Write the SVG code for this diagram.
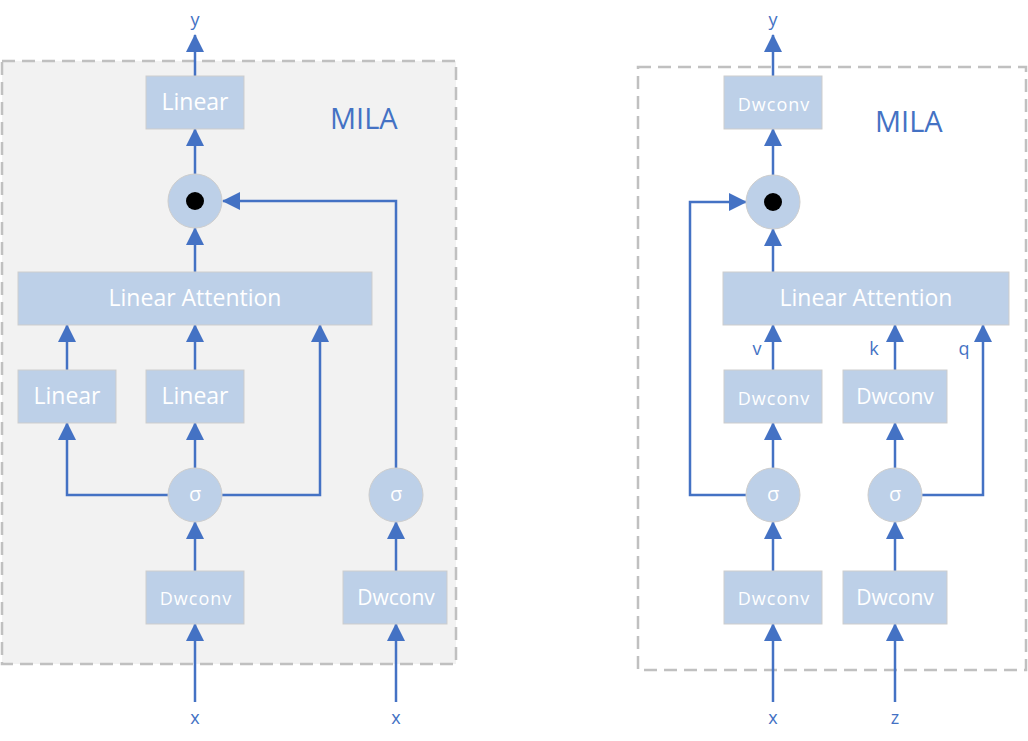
<svg xmlns="http://www.w3.org/2000/svg" width="1028" height="741" viewBox="0 0 1028 741">
<defs>
<marker id="ah" viewBox="0 0 18 18" markerWidth="18" markerHeight="18" markerUnits="userSpaceOnUse" refX="17" refY="9" orient="auto">
<path d="M0,0 L18,9 L0,18 z" fill="#4472C4"/>
</marker>
</defs>
<style>
.frame{stroke:#c0c0c0;stroke-width:2.5;stroke-dasharray:13 7}
.box{fill:#BDD0E8;stroke:#cdcdcd;stroke-width:1}
.t{font-family:"Open Sans","Liberation Sans",sans-serif;fill:#ffffff;text-anchor:middle;dominant-baseline:central}
.big{font-size:23px}
.mid{font-size:21px}
.sm{font-size:18px;letter-spacing:1px}
.sig{font-size:20px}
.lbl{font-family:"Open Sans","Liberation Sans",sans-serif;fill:#4472C4;font-size:18px;text-anchor:middle}
.mila{font-family:"Open Sans","Liberation Sans",sans-serif;fill:#4472C4;font-size:29px}
.c{fill:none;stroke:#4472C4;stroke-width:2.5;marker-end:url(#ah)}
</style>
<g id="frameL"><rect class="frame" x="2" y="61" width="454" height="603" fill="#f2f2f2"/><text class="mila" x="330" y="129">MILA</text></g>
<g id="frameR"><rect class="frame" x="638" y="67" width="388" height="603" fill="none"/><text class="mila" x="875" y="132">MILA</text></g>

<g id="connectors">
<path class="c" d="M195,702 V624"/>
<path class="c" d="M195,571 V522"/>
<path class="c" d="M195,468 V423"/>
<path class="c" d="M168,495 H67 V423"/>
<path class="c" d="M222,495 H320 V325"/>
<path class="c" d="M67,370 V325"/>
<path class="c" d="M195,370 V325"/>
<path class="c" d="M195,272 V228"/>
<path class="c" d="M195,174 V129"/>
<path class="c" d="M195,76 V35"/>
<path class="c" d="M396,702 V624"/>
<path class="c" d="M396,571 V522"/>
<path class="c" d="M396,468 V201 H223"/>

<path class="c" d="M773,702 V624"/>
<path class="c" d="M895,702 V624"/>
<path class="c" d="M773,571 V522"/>
<path class="c" d="M895,571 V522"/>
<path class="c" d="M773,468 V423"/>
<path class="c" d="M895,468 V423"/>
<path class="c" d="M746,495 H690 V202 H746"/>
<path class="c" d="M922,495 H983 V325"/>
<path class="c" d="M773,370 V325"/>
<path class="c" d="M895,370 V325"/>
<path class="c" d="M773,272 V229"/>
<path class="c" d="M773,175 V129"/>
<path class="c" d="M773,76 V35"/>
</g>

<g id="L_linear_top"><rect class="box" x="146" y="76" width="98" height="53"/><text class="t big" x="195" y="101">Linear</text></g>
<g id="L_mul"><circle class="box" cx="195" cy="201" r="27"/><circle cx="195" cy="201" r="9" fill="#000"/></g>
<g id="L_la"><rect class="box" x="18" y="272" width="354" height="53"/><text class="t big" x="195" y="297">Linear Attention</text></g>
<g id="L_linear1"><rect class="box" x="18" y="370" width="98" height="53"/><text class="t big" x="67" y="395">Linear</text></g>
<g id="L_linear2"><rect class="box" x="146" y="370" width="98" height="53"/><text class="t big" x="195" y="395">Linear</text></g>
<g id="L_sig1"><circle class="box" cx="195" cy="495" r="27"/><text class="t sig" x="195" y="493">σ</text></g>
<g id="L_sig2"><circle class="box" cx="396" cy="495" r="27"/><text class="t sig" x="396" y="493">σ</text></g>
<g id="L_dw1"><rect class="box" x="146" y="571" width="98" height="53"/><text class="t sm" x="196" y="598">Dwconv</text></g>
<g id="L_dw2"><rect class="box" x="343" y="571" width="104" height="53"/><text class="t mid" x="396" y="597">Dwconv</text></g>
<g id="L_labels"><text class="lbl" x="195" y="26">y</text><text class="lbl" x="195" y="724">x</text><text class="lbl" x="396" y="724">x</text></g>

<g id="R_dw_top"><rect class="box" x="724" y="76" width="98" height="53"/><text class="t sm" x="774" y="104">Dwconv</text></g>
<g id="R_mul"><circle class="box" cx="773" cy="202" r="27"/><circle cx="773" cy="202" r="9" fill="#000"/></g>
<g id="R_la"><rect class="box" x="723" y="272" width="286" height="53"/><text class="t big" x="866" y="297">Linear Attention</text></g>
<g id="R_dw_v"><rect class="box" x="724" y="370" width="98" height="53"/><text class="t sm" x="774" y="398">Dwconv</text></g>
<g id="R_dw_k"><rect class="box" x="843" y="370" width="104" height="53"/><text class="t mid" x="895" y="396">Dwconv</text></g>
<g id="R_sig1"><circle class="box" cx="773" cy="495" r="27"/><text class="t sig" x="773" y="493">σ</text></g>
<g id="R_sig2"><circle class="box" cx="895" cy="495" r="27"/><text class="t sig" x="895" y="493">σ</text></g>
<g id="R_dw_x"><rect class="box" x="724" y="571" width="98" height="53"/><text class="t sm" x="774" y="598">Dwconv</text></g>
<g id="R_dw_z"><rect class="box" x="843" y="571" width="104" height="53"/><text class="t mid" x="895" y="597">Dwconv</text></g>
<g id="R_labels"><text class="lbl" x="773" y="26">y</text><text class="lbl" x="757" y="355">v</text><text class="lbl" x="874" y="355">k</text><text class="lbl" x="964" y="355">q</text><text class="lbl" x="773" y="724">x</text><text class="lbl" x="895" y="724">z</text></g>
</svg>
